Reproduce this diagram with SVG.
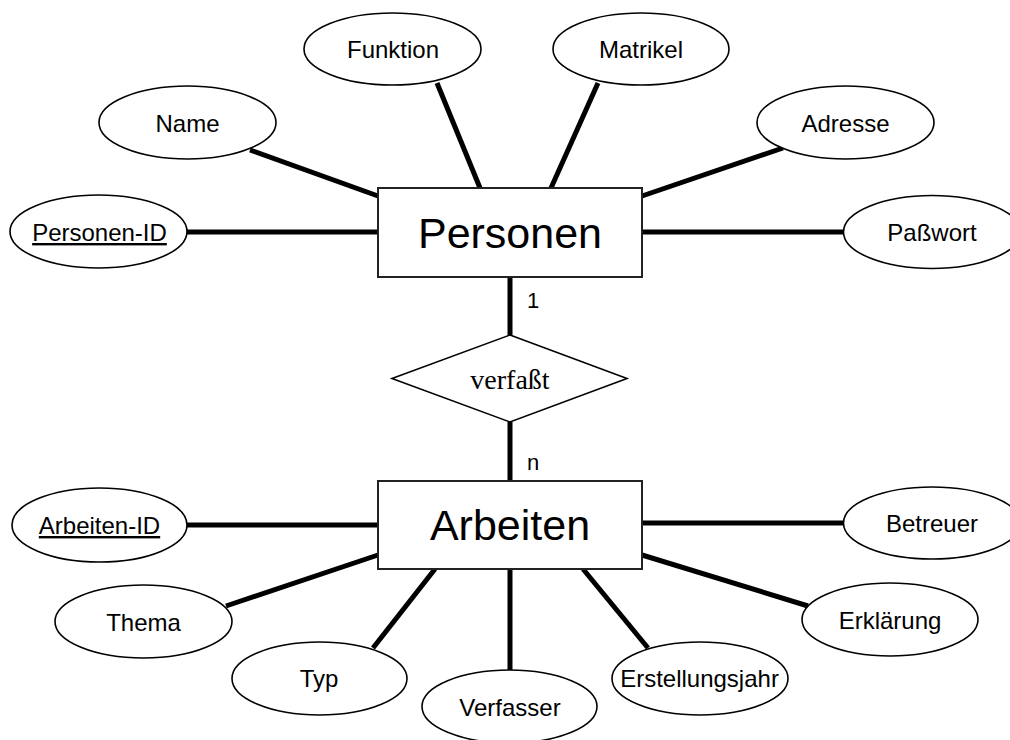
<svg xmlns="http://www.w3.org/2000/svg" width="1010" height="740" viewBox="0 0 1010 740">
  <style>
    .link { stroke: #000; stroke-width: 5; fill: none; }
    .attr ellipse { fill: #fff; stroke: #000; stroke-width: 1.6; }
    .attr text { font-family: "Liberation Sans", Arial, sans-serif; font-size: 24px; text-anchor: middle; fill: #000; }
    .key text { text-decoration: underline; }
    .entity rect { fill: #fff; stroke: #222; stroke-width: 2; }
    .entity text { font-family: "Liberation Sans", Arial, sans-serif; font-size: 43px; text-anchor: middle; fill: #000; }
    .rel polygon { fill: #fff; stroke: #000; stroke-width: 1.6; }
    .rel text { font-family: "Liberation Serif", "Times New Roman", serif; font-size: 28px; text-anchor: middle; fill: #000; }
    .card { font-family: "Liberation Sans", Arial, sans-serif; font-size: 22px; fill: #000; }
  </style>

  <rect width="1010" height="740" fill="#fff"/>

  <!-- connectors -->
  <g id="connectors">
    <line class="link" x1="187" y1="232" x2="378" y2="232"/>
    <line class="link" x1="250" y1="150" x2="378" y2="196"/>
    <line class="link" x1="437" y1="83" x2="480" y2="188"/>
    <line class="link" x1="598" y1="83" x2="551" y2="188"/>
    <line class="link" x1="783" y1="148" x2="642" y2="196"/>
    <line class="link" x1="642" y1="232" x2="844" y2="232"/>
    <line class="link" x1="510" y1="277" x2="510" y2="335"/>
    <line class="link" x1="510" y1="422" x2="510" y2="481"/>
    <line class="link" x1="187" y1="525" x2="378" y2="525"/>
    <line class="link" x1="226" y1="606" x2="378" y2="555"/>
    <line class="link" x1="373" y1="648" x2="435" y2="569"/>
    <line class="link" x1="510" y1="569" x2="510" y2="670"/>
    <line class="link" x1="583" y1="569" x2="648" y2="648"/>
    <line class="link" x1="642" y1="555" x2="808" y2="606"/>
    <line class="link" x1="642" y1="523" x2="844" y2="523"/>
  </g>

  <!-- entities -->
  <g id="personen" class="entity">
    <rect x="378" y="188" width="264" height="89"/>
    <text x="510" y="248">Personen</text>
  </g>
  <g id="arbeiten" class="entity">
    <rect x="378" y="481" width="264" height="88"/>
    <text x="510" y="540">Arbeiten</text>
  </g>

  <!-- relationship -->
  <g id="verfasst" class="rel">
    <polygon points="510,335 627,378.5 510,422 392,378.5"/>
    <text x="510" y="389">verfaßt</text>
  </g>
  <text class="card" x="527" y="308">1</text>
  <text class="card" x="527" y="470">n</text>

  <!-- attributes of Personen -->
  <g id="personen-id" class="attr key">
    <ellipse cx="98.5" cy="231.5" rx="88.5" ry="36.5"/>
    <text x="99.5" y="241">Personen-ID</text>
  </g>
  <g id="name" class="attr">
    <ellipse cx="187.5" cy="122.5" rx="88.5" ry="36.5"/>
    <text x="187.5" y="132">Name</text>
  </g>
  <g id="funktion" class="attr">
    <ellipse cx="392.5" cy="49" rx="88.5" ry="36"/>
    <text x="393" y="58">Funktion</text>
  </g>
  <g id="matrikel" class="attr">
    <ellipse cx="641" cy="49" rx="88" ry="36"/>
    <text x="641" y="58">Matrikel</text>
  </g>
  <g id="adresse" class="attr">
    <ellipse cx="845.5" cy="122.5" rx="88.5" ry="36.5"/>
    <text x="845.5" y="132">Adresse</text>
  </g>
  <g id="passwort" class="attr">
    <ellipse cx="932" cy="232" rx="88.5" ry="36.5"/>
    <text x="932" y="241">Paßwort</text>
  </g>

  <!-- attributes of Arbeiten -->
  <g id="arbeiten-id" class="attr key">
    <ellipse cx="99.5" cy="525" rx="87.5" ry="37"/>
    <text x="99.5" y="534">Arbeiten-ID</text>
  </g>
  <g id="thema" class="attr">
    <ellipse cx="143.5" cy="621.5" rx="88.5" ry="36.5"/>
    <text x="143.5" y="631">Thema</text>
  </g>
  <g id="typ" class="attr">
    <ellipse cx="319.5" cy="678.5" rx="87.5" ry="36.5"/>
    <text x="319" y="687">Typ</text>
  </g>
  <g id="verfasser" class="attr">
    <ellipse cx="509.5" cy="706.5" rx="87.5" ry="36.5"/>
    <text x="510" y="716">Verfasser</text>
  </g>
  <g id="erstellungsjahr" class="attr">
    <ellipse cx="700" cy="678.5" rx="88" ry="36.5"/>
    <text x="699.5" y="687">Erstellungsjahr</text>
  </g>
  <g id="erklaerung" class="attr">
    <ellipse cx="890" cy="619.5" rx="88" ry="36.5"/>
    <text x="890" y="629">Erklärung</text>
  </g>
  <g id="betreuer" class="attr">
    <ellipse cx="932" cy="523" rx="88.5" ry="36"/>
    <text x="932" y="532">Betreuer</text>
  </g>
</svg>
